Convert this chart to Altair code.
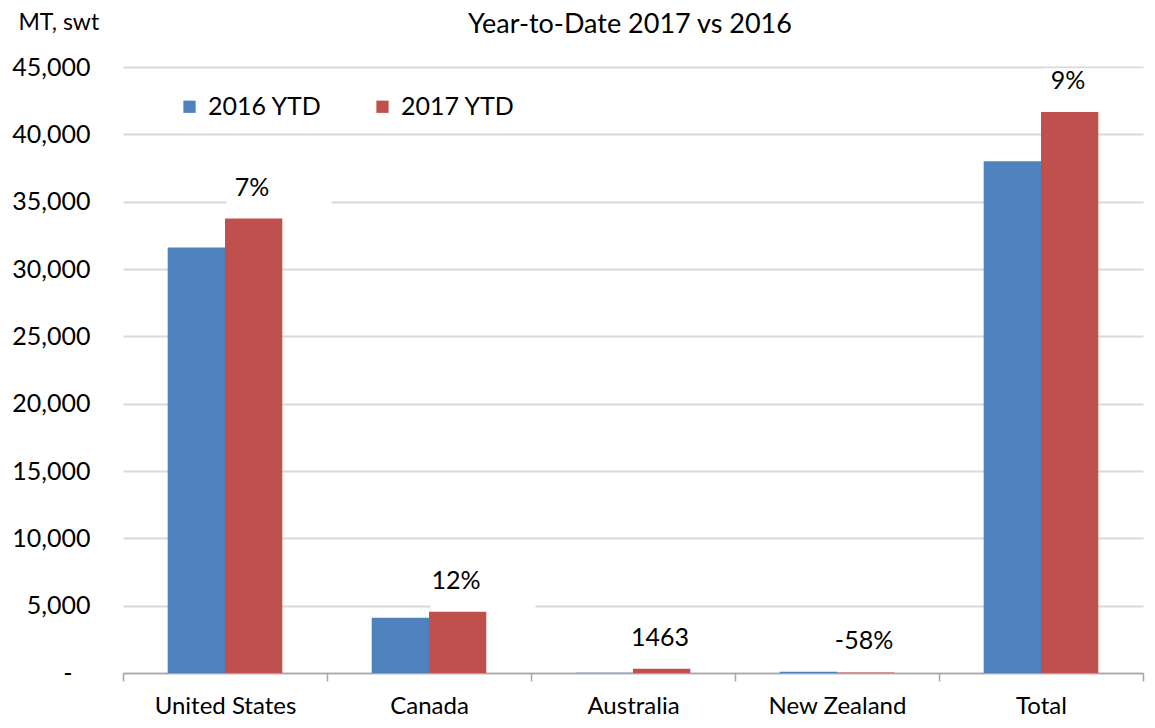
import altair as alt
import pandas as pd

title_text = "Year-to-Date 2017 vs 2016"
categories = ["United States", "Canada", "Australia", "New Zealand", "Total"]
series_names = ["2016 YTD", "2017 YTD"]
values_2016 = [31600, 4100, 20, 100, 38000]
values_2017 = [33750, 4550, 313, 42, 41650]
change_labels = ["7%", "12%", "1463", "-58%", "9%"]
y_ticks = [0, 5000, 10000, 15000, 20000, 25000, 30000, 35000, 40000, 45000]

FONT = "Lato"
BLUE = "#4F81BD"
RED = "#C0504D"

rows = []
for c, a, b in zip(categories, values_2016, values_2017):
    rows.append({"category": c, "series": series_names[0], "value": a})
    rows.append({"category": c, "series": series_names[1], "value": b})
bars_df = pd.DataFrame(rows)

labels_df = pd.DataFrame({"category": categories, "value": values_2017, "label": change_labels})
title_df = pd.DataFrame({"t": [title_text]})

x_enc = alt.X("category:N", sort=categories,
              scale=alt.Scale(paddingInner=0, paddingOuter=0),
              axis=alt.Axis(title=None, labelFontSize=24, labelFont=FONT, labelColor="#000000",
                            labelPadding=13, labelAlign="center", labelBaseline="top",
                            domainColor="#A6A6A6", domainWidth=1.5,
                            tickColor="#A6A6A6", tickWidth=1.5, tickSize=8, tickBand="extent",
                            grid=False, labelAngle=0))

y_scale = alt.Scale(domain=[0, 45000], nice=False)

bars = alt.Chart(bars_df).mark_bar().encode(
    x=x_enc,
    xOffset=alt.XOffset("series:N", sort=series_names,
                        scale=alt.Scale(paddingInner=0, paddingOuter=0.78)),
    y=alt.Y("value:Q", scale=y_scale,
            axis=alt.Axis(values=y_ticks, title="MT, swt", titleAngle=0, titleAlign="left",
                          titleBaseline="middle", titleX=-105, titleY=-45, titleFontSize=23,
                          titleFont=FONT, titleFontWeight="normal", titleColor="#000000",
                          labelFontSize=25, labelFont=FONT, labelColor="#000000",
                          labelPadding=alt.condition("datum.value == 0", alt.value(51), alt.value(33)),
                          ticks=False, domain=False,
                          gridColor="#D9D9D9", gridWidth=2,
                          labelExpr="datum.value == 0 ? '-' : format(datum.value, ',')")),
    color=alt.Color("series:N", sort=series_names,
                    scale=alt.Scale(domain=series_names, range=[BLUE, RED]),
                    legend=alt.Legend(title=None, orient="none", legendX=54, legendY=27,
                                      direction="horizontal", symbolType="square",
                                      symbolSize=150, symbolStrokeWidth=0, labelFontSize=25,
                                      labelFont=FONT, labelColor="#000000", columnPadding=48,
                                      labelOffset=6, padding=0)),
)

boxes = alt.Chart(labels_df).mark_point(
    shape="M-1,-0.39L1,-0.39L1,0.39L-1,0.39Z", filled=True, color="white", opacity=1,
    size=11025, xOffset=54, yOffset=-23.5
).encode(
    x=alt.X("category:N", sort=categories),
    y=alt.Y("value:Q", scale=y_scale),
)

texts = alt.Chart(labels_df).mark_text(
    font=FONT, fontSize=25, color="#000000", dx=27, dy=-31, baseline="middle", align="center"
).encode(
    x=alt.X("category:N", sort=categories),
    y=alt.Y("value:Q", scale=y_scale),
    text="label:N",
)

title = alt.Chart(title_df).mark_text(
    font=FONT, fontSize=27, color="#000000", baseline="middle", align="center"
).encode(
    x=alt.value(507),
    y=alt.value(-42),
    text="t:N",
)

chart = alt.layer(boxes, bars, texts, title).properties(
    width=1020, height=606,
    autosize=alt.AutoSizeParams(type="none"),
    padding={"left": 115, "top": 59, "right": 4, "bottom": 47},
).configure_view(stroke=None)

chart.save("out.html", embed_options={"renderer": "svg", "actions": False})
